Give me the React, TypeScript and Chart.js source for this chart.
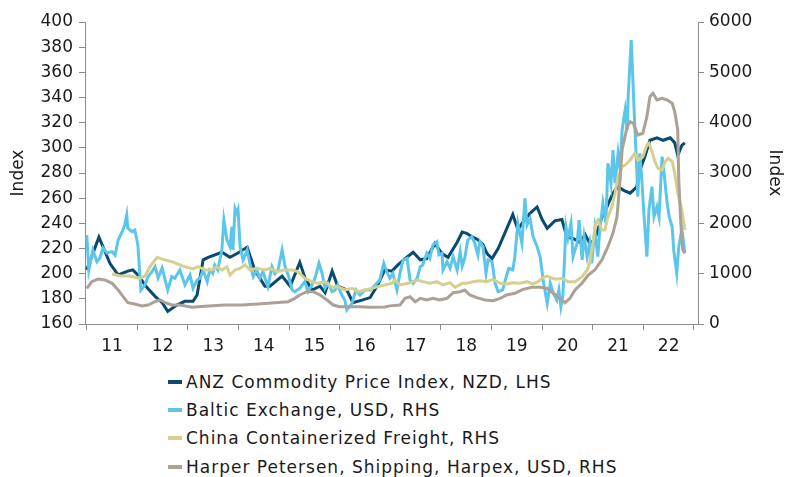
import React, { useEffect, useRef } from 'react';
import { Chart, registerables } from 'chart.js';

Chart.register(...registerables);

const FONT = '"DejaVu Sans", Verdana, sans-serif';
const TEXT = '#1a1a1a';
const AXIS = '#8c8c8c';

// Tick labels for the year axis (placed mid-year)
const yearLabels = ['11', '12', '13', '14', '15', '16', '17', '18', '19', '20', '21', '22'];
const firstYear = 2011;

const seriesNames = [
  'ANZ Commodity Price Index, NZD, LHS',
  'Baltic Exchange, USD, RHS',
  'China Containerized Freight, RHS',
  'Harper Petersen, Shipping, Harpex, USD, RHS',
];
const seriesColors = ['#0a4a6e', '#5bc6ea', '#d6d090', '#aca196'];

// ANZ Commodity Price Index (LHS)
const anzDates = [
  2011.00, 2011.24, 2011.46, 2011.62, 2011.81, 2011.91,
  2012.01, 2012.19, 2012.35, 2012.49, 2012.60, 2012.78, 2012.94,
  2013.10, 2013.18, 2013.30, 2013.40, 2013.67, 2013.83, 2013.97,
  2014.17, 2014.32, 2014.52, 2014.62, 2014.86,
  2015.02, 2015.21, 2015.31, 2015.45, 2015.61, 2015.71, 2015.85, 2015.96,
  2016.14, 2016.26, 2016.44, 2016.60, 2016.75, 2016.89,
  2017.03, 2017.15, 2017.29, 2017.45, 2017.59, 2017.72, 2017.88,
  2018.02, 2018.14, 2018.32, 2018.42, 2018.51, 2018.63, 2018.73, 2018.83, 2018.91,
  2019.01, 2019.13, 2019.26, 2019.42, 2019.52, 2019.62, 2019.76, 2019.90,
  2020.00, 2020.10, 2020.25, 2020.39, 2020.49, 2020.61, 2020.75, 2020.85, 2020.94,
  2021.04, 2021.18, 2021.28, 2021.40, 2021.50, 2021.62, 2021.74, 2021.87, 2021.93,
  2022.03, 2022.13, 2022.27, 2022.39, 2022.53, 2022.62, 2022.68, 2022.76, 2022.82,
];
const anzValues = [
  203, 229, 208, 199, 202, 203,
  199, 189, 182, 177, 170, 175, 178,
  178, 183, 211, 213, 217, 213, 216,
  221, 203, 190, 190, 198,
  190, 209, 197, 187, 190, 185, 202, 190,
  187, 177, 179, 181, 191, 203,
  202, 207, 212, 217, 211, 212, 224,
  216, 213, 225, 233, 232, 229, 227, 223, 216,
  212, 220, 232, 247, 235, 241, 248, 253,
  243, 236, 242, 243, 229, 228, 225, 231, 224,
  227, 245, 253, 264, 269, 266, 264, 269, 282,
  293, 306, 308, 306, 308, 304, 294, 302, 304,
];

// Baltic Exchange (RHS)
const balticDates = [
  2011.00, 2011.04, 2011.12, 2011.20, 2011.26, 2011.32, 2011.40, 2011.50, 2011.56, 2011.62, 2011.70, 2011.75, 2011.79, 2011.81, 2011.89, 2011.95,
  2012.01, 2012.07, 2012.15, 2012.21, 2012.29, 2012.35, 2012.41, 2012.49, 2012.55, 2012.60, 2012.68, 2012.74, 2012.84, 2012.94,
  2013.04, 2013.10, 2013.18, 2013.24, 2013.30, 2013.38, 2013.43, 2013.49, 2013.53, 2013.59, 2013.67, 2013.71, 2013.77, 2013.83, 2013.87, 2013.89, 2013.93, 2013.97, 2013.99,
  2014.03, 2014.09, 2014.17, 2014.23, 2014.29, 2014.36, 2014.42, 2014.48, 2014.58, 2014.66, 2014.72, 2014.78, 2014.86, 2014.92, 2014.98,
  2015.06, 2015.11, 2015.21, 2015.31, 2015.37, 2015.45, 2015.51, 2015.59, 2015.65, 2015.71, 2015.77, 2015.85, 2015.91, 2015.96,
  2016.04, 2016.10, 2016.14, 2016.24, 2016.32, 2016.40, 2016.50, 2016.60, 2016.70, 2016.79, 2016.87, 2016.93, 2016.99,
  2017.05, 2017.13, 2017.19, 2017.25, 2017.33, 2017.39, 2017.45, 2017.53, 2017.59, 2017.64, 2017.72, 2017.78, 2017.84, 2017.92, 2017.96,
  2018.02, 2018.04, 2018.12, 2018.18, 2018.24, 2018.32, 2018.38, 2018.42, 2018.47, 2018.53, 2018.61, 2018.67, 2018.73, 2018.77, 2018.83, 2018.89, 2018.93,
  2019.01, 2019.07, 2019.13, 2019.22, 2019.30, 2019.34, 2019.42, 2019.46, 2019.52, 2019.60, 2019.66, 2019.70, 2019.76, 2019.82, 2019.90, 2019.96,
  2020.02, 2020.10, 2020.16, 2020.22, 2020.29, 2020.33, 2020.37, 2020.41, 2020.47, 2020.51, 2020.57, 2020.61, 2020.69, 2020.73, 2020.79, 2020.83, 2020.89, 2020.94, 2020.98,
  2021.04, 2021.10, 2021.14, 2021.20, 2021.26, 2021.30, 2021.36, 2021.40, 2021.44, 2021.50, 2021.54, 2021.58, 2021.64, 2021.68, 2021.70, 2021.76, 2021.78, 2021.82, 2021.87, 2021.89, 2021.93, 2021.97,
  2022.01, 2022.07, 2022.11, 2022.17, 2022.21, 2022.27, 2022.31, 2022.37, 2022.41, 2022.47, 2022.51, 2022.57, 2022.60, 2022.66, 2022.70, 2022.76, 2022.78, 2022.82,
];
const balticValues = [
  1768, 1073, 1470, 1238, 1311, 1510, 1411, 1437, 1371, 1669, 1834, 1967, 2166, 1908, 1834, 1868,
  1570, 676, 775, 940, 1040, 1139, 914, 1113, 874, 676, 940, 910, 1073, 775,
  974, 709, 874, 908, 1073, 841, 1073, 1007, 1172, 1073, 1470, 2066, 1669, 1536, 1933, 1470, 2299, 2200, 2265,
  1536, 1272, 1470, 1172, 940, 1073, 908, 1040, 742, 1139, 1000, 1073, 1470, 1139, 974,
  676, 642, 709, 841, 642, 775, 908, 1206, 1007, 709, 808, 642, 676, 775,
  576, 477, 278, 411, 676, 576, 676, 676, 775, 874, 1206, 1040, 908,
  1007, 676, 1007, 1272, 1305, 874, 808, 908, 1139, 1172, 1405, 1305, 1570, 1635, 1371,
  1405, 1073, 1238, 1106, 1337, 1073, 1437, 1150, 1305, 1669, 1735, 1603, 1371, 1635, 1536, 1007, 1272,
  1238, 808, 642, 676, 974, 1106, 1073, 1337, 2001, 1603, 2497, 1967, 2100, 1735, 1536, 1337,
  874, 411, 808, 610, 477, 676, 344, 576, 1933, 1703, 2001, 1337, 1603, 2066, 1272, 1735, 1337, 1603, 1206,
  1868, 1337, 1868, 2398, 2001, 3193, 2796, 3457, 2796, 3392, 3060, 3855, 4252, 3855, 4516, 5643, 5180, 4186, 3060, 2529, 3392, 2861,
  2200, 1337, 2265, 2728, 2132, 2331, 2132, 3324, 2994, 2398, 2132, 1933, 1470, 1007, 1536, 1868, 1735, 1405,
];

// China Containerized Freight (RHS)
const chinaDates = [
  2011.50, 2011.66, 2011.85,
  2012.05, 2012.15, 2012.25, 2012.39, 2012.51, 2012.68, 2012.84, 2012.94,
  2013.10, 2013.20, 2013.34, 2013.47, 2013.57, 2013.67, 2013.77, 2013.83, 2013.93,
  2014.03, 2014.13, 2014.23, 2014.36, 2014.52, 2014.62, 2014.76, 2014.88,
  2015.06, 2015.17, 2015.31, 2015.45, 2015.57, 2015.71, 2015.85, 2015.96,
  2016.10, 2016.24, 2016.36, 2016.50, 2016.64, 2016.75, 2016.89,
  2017.03, 2017.09, 2017.19, 2017.35, 2017.53, 2017.64, 2017.78, 2017.92,
  2018.04, 2018.18, 2018.28, 2018.42, 2018.51, 2018.63, 2018.77, 2018.91,
  2019.03, 2019.17, 2019.30, 2019.42, 2019.56, 2019.70, 2019.82, 2019.92,
  2020.02, 2020.10, 2020.20, 2020.29, 2020.39, 2020.51, 2020.65, 2020.79, 2020.89, 2020.94,
  2021.00, 2021.06, 2021.10, 2021.18, 2021.24, 2021.30, 2021.38, 2021.44, 2021.50, 2021.58, 2021.64, 2021.74, 2021.83, 2021.89, 2021.99,
  2022.07, 2022.11, 2022.17, 2022.23, 2022.29, 2022.37, 2022.43, 2022.49, 2022.57, 2022.62, 2022.68, 2022.76, 2022.82,
];
const chinaValues = [
  994, 954, 954,
  908, 954, 1139, 1325, 1285, 1238, 1172, 1139,
  1093, 1139, 1073, 1073, 1139, 1073, 1139, 974, 1073,
  1106, 1172, 1073, 1106, 1073, 1106, 1040, 1073,
  1073, 1040, 908, 841, 808, 841, 729, 742,
  676, 709, 642, 676, 709, 742, 775,
  808, 874, 775, 808, 874, 841, 808, 841,
  775, 821, 729, 808, 808, 841, 861, 841,
  888, 808, 795, 821, 808, 841, 795, 841,
  928, 954, 908, 888, 908, 841, 841, 940, 1073, 1206,
  1603, 2001, 2066, 1868, 1868, 2132, 2331, 2597, 2927, 3126, 3160, 3259, 3392, 3259, 3324,
  3557, 3590, 3424, 3225, 3094, 3060, 3225, 3292, 3225, 2994, 2597, 2265, 1868,
];

// Harper Petersen Harpex (RHS)
const harpexDates = [
  2011.00, 2011.10, 2011.22, 2011.36, 2011.50, 2011.62, 2011.72, 2011.81, 2011.95,
  2012.09, 2012.21, 2012.35, 2012.45, 2012.55, 2012.68, 2012.84,
  2013.08, 2013.40, 2013.73,
  2014.07, 2014.38, 2014.72, 2014.98,
  2015.11, 2015.21, 2015.35, 2015.47, 2015.61, 2015.75, 2015.87,
  2016.00, 2016.20, 2016.40, 2016.60, 2016.89, 2016.99,
  2017.19, 2017.29, 2017.39, 2017.49, 2017.59, 2017.72, 2017.84, 2017.98,
  2018.12, 2018.24, 2018.38, 2018.47, 2018.57, 2018.71, 2018.87,
  2019.03, 2019.17, 2019.30, 2019.46, 2019.62, 2019.80, 2019.96,
  2020.10, 2020.22, 2020.35, 2020.45, 2020.55, 2020.65, 2020.79, 2020.91,
  2021.04, 2021.18, 2021.30, 2021.40, 2021.48, 2021.54, 2021.58, 2021.68, 2021.74, 2021.80, 2021.89, 2021.99,
  2022.07, 2022.13, 2022.19, 2022.27, 2022.37, 2022.47, 2022.57, 2022.62, 2022.68, 2022.70, 2022.74, 2022.78, 2022.82,
];
const harpexValues = [
  709, 841, 894, 874, 808, 676, 543, 423, 397,
  358, 377, 443, 477, 423, 377, 377,
  331, 358, 377,
  377, 397, 423, 443,
  510, 576, 642, 642, 576, 477, 377,
  344, 344, 344, 331, 340, 360,
  377, 510, 543, 443, 510, 477, 510, 477,
  510, 622, 642, 676, 576, 523, 477,
  463, 510, 576, 610, 689, 729, 729,
  709, 610, 510, 423, 510, 676, 815, 974,
  1073, 1272, 1536, 1808, 2132, 2861, 3457, 3921, 4020, 3988, 3755, 3789,
  4119, 4516, 4584, 4451, 4484, 4451, 4385, 4218, 3855, 2861, 2001, 1470, 1405,
];

// Axis ranges
const leftMin = 160;
const leftMax = 400;
const leftStep = 20;
const rightMin = 0;
const rightMax = 6000;
const rightStep = 1000;

const toPoints = (dates: number[], values: number[]) =>
  dates.map((d, i) => ({ x: d, y: values[i] }));

export default function App() {
  const canvasRef = useRef<HTMLCanvasElement>(null);

  useEffect(() => {
    const canvas = canvasRef.current;
    if (!canvas) return;
    const tickFont = { family: FONT, size: 17 };
    const mk = (i: number, dates: number[], values: number[], axis: string) => ({
      label: seriesNames[i],
      data: toPoints(dates, values),
      yAxisID: axis,
      borderColor: seriesColors[i],
      backgroundColor: seriesColors[i],
      borderWidth: 3,
      pointRadius: 0,
      tension: 0,
      fill: false,
      order: 4 - i,
    });
    const chart = new Chart(canvas, {
      type: 'line',
      data: {
        datasets: [
          mk(0, anzDates, anzValues, 'y'),
          mk(1, balticDates, balticValues, 'y1'),
          mk(2, chinaDates, chinaValues, 'y1'),
          mk(3, harpexDates, harpexValues, 'y1'),
        ] as any,
      },
      options: {
        animation: false,
        responsive: false,
        maintainAspectRatio: false,
        layout: { padding: { top: 22, left: 0, right: 0, bottom: 0 } },
        plugins: {
          legend: { display: false },
          tooltip: { enabled: false },
        },
        scales: {
          x: {
            type: 'linear',
            min: 2010.965,
            max: 2023.08,
            afterBuildTicks: (scale: any) => {
              const t: any[] = [];
              for (let i = 0; i <= yearLabels.length; i++) {
                t.push({ value: firstYear + i });
                if (i < yearLabels.length) t.push({ value: firstYear + i + 0.5 });
              }
              scale.ticks = t;
            },
            afterFit: (scale: any) => {
              scale.height = 36;
            },
            ticks: {
              autoSkip: false,
              maxRotation: 0,
              minRotation: 0,
              padding: 6,
              color: TEXT,
              font: tickFont,
              callback: (v: any) => {
                const n = Number(v);
                if (Math.abs(n - Math.floor(n) - 0.5) < 0.01) {
                  return yearLabels[Math.floor(n) - firstYear];
                }
                return '';
              },
            },
            grid: {
              drawOnChartArea: false,
              drawTicks: true,
              tickLength: 6,
              tickColor: (ctx: any) =>
                ctx.tick && Math.abs(ctx.tick.value - Math.round(ctx.tick.value)) < 0.01
                  ? AXIS
                  : 'rgba(0,0,0,0)',
            },
            border: { display: true, color: AXIS, width: 1 },
          },
          y: {
            position: 'left',
            min: leftMin,
            max: leftMax,
            afterFit: (scale: any) => {
              scale.width = 85;
            },
            ticks: {
              stepSize: leftStep,
              padding: 6,
              color: TEXT,
              font: tickFont,
              callback: (v: any) => String(v),
            },
            grid: { drawOnChartArea: false, drawTicks: true, tickLength: 6, tickColor: AXIS },
            border: { display: true, color: AXIS, width: 1 },
            title: {
              display: true,
              text: 'Index',
              color: TEXT,
              font: { family: FONT, size: 17 },
              padding: { top: 8, bottom: 0 },
            },
          },
          y1: {
            position: 'right',
            min: rightMin,
            max: rightMax,
            afterFit: (scale: any) => {
              scale.width = 87;
            },
            ticks: {
              stepSize: rightStep,
              padding: 5,
              color: TEXT,
              font: tickFont,
              callback: (v: any) => String(v),
            },
            grid: { drawOnChartArea: false, drawTicks: true, tickLength: 6, tickColor: AXIS },
            border: { display: true, color: AXIS, width: 1 },
            title: {
              display: true,
              text: 'Index',
              color: TEXT,
              font: { family: FONT, size: 17 },
              padding: { top: 0, bottom: 0 },
            },
          },
        },
      } as any,
    });
    return () => chart.destroy();
  }, []);

  return (
    <div
      style={{
        position: 'fixed',
        left: 0,
        top: 0,
        width: 785,
        height: 477,
        background: '#ffffff',
        overflow: 'hidden',
      }}
    >
      <canvas
        ref={canvasRef}
        width={785}
        height={360}
        style={{ position: 'absolute', left: 0, top: 0, width: 785, height: 360 }}
      />
      {seriesNames.map((name, i) => (
        <div
          key={name}
          style={{
            position: 'absolute',
            left: 168,
            top: 371.7 + i * 28.33,
            height: 20,
            display: 'flex',
            alignItems: 'center',
            fontFamily: FONT,
            fontSize: 17,
            lineHeight: '20px',
            letterSpacing: '1px',
            color: TEXT,
            whiteSpace: 'nowrap',
          }}
        >
          <span
            style={{
              display: 'inline-block',
              width: 14,
              height: 4,
              background: seriesColors[i],
              marginRight: 4,
            }}
          />
          <span>{name}</span>
        </div>
      ))}
    </div>
  );
}
